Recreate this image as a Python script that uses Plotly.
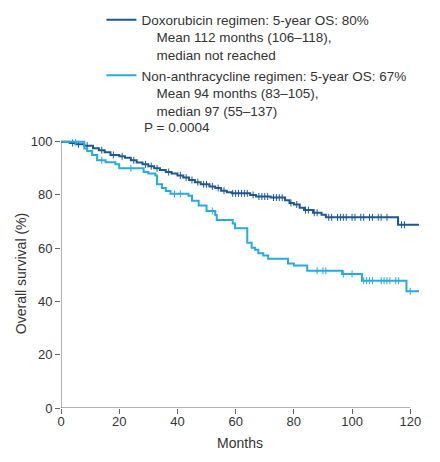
import numpy as np
import plotly.graph_objects as go

# Doxorubicin regimen: step times (months) and survival (%) after each step
dox_t = [0, 3, 5, 8, 11, 13, 15, 17, 20, 22, 24, 26, 28, 30, 32, 34, 36, 38, 40, 42, 44, 46, 48, 51, 53, 55, 57, 58.7,
         65, 67, 72, 77, 78.5, 80, 82, 83.5, 86.6, 89.5, 91, 115.8, 123]
dox_s = [100, 99.5, 99, 98.5, 97.5, 96.8, 96, 95, 94.5, 94, 93, 92.2, 91.5, 90.8, 90, 89.4, 88.6, 88, 87.3, 86.5, 85.6,
         84.8, 84, 83.2, 82.6, 81.6, 81, 80.6, 80, 79.4, 79, 78, 77, 76.4, 75.2, 74.3, 73.3, 72.6, 71.6, 68.8, 68.8]
dox_cens = [4, 6, 9, 14, 18, 21, 25, 29, 31, 33, 37, 41, 43, 45, 47, 49, 50, 52, 54, 56, 59, 60, 61, 62, 63, 64, 66,
            68, 69, 70, 71, 73, 74, 75, 76, 79, 81, 84, 85, 87, 88, 92, 93, 95, 96, 97, 98, 100, 101, 103, 104, 106,
            107, 109, 110, 112, 117, 118]

# Non-anthracycline regimen
non_t = [0, 8, 9, 10.7, 12.4, 15.3, 18.7, 20, 28.4, 30, 32.4, 33, 34.7, 36, 37.6, 43.8, 45, 47.3, 50, 53, 53.5, 59,
         59.8, 64, 65.5, 66.7, 67.8, 69.5, 71.2, 78, 80, 84.6, 96.6, 103.4, 118.7, 123]
non_s = [100, 97.4, 96.5, 95, 93, 92.3, 91.5, 90, 88.6, 88, 87.3, 84, 82.6, 81.5, 80.4, 79.7, 77.8, 76, 74, 72.5, 70.6,
         69.3, 67.5, 62, 60.2, 59.4, 58.1, 57.3, 56, 54.3, 53.5, 51.5, 50.3, 47.8, 43.8, 43.8]
non_cens = [5, 14, 24, 39, 41, 52, 88, 90, 91, 97, 100, 104, 105, 106, 107, 110, 111, 112, 113, 115, 116, 120]

x_ticks = [0, 20, 40, 60, 80, 100, 120]
y_ticks = [0, 20, 40, 60, 80, 100]

dark = "#1d5893"
light = "#25aae1"
font = "Arial, 'Liberation Sans', sans-serif"
txt = "#333333"

# figure-internal geometry (page body adds an 8px offset)
W, H = 432, 454
L, T, R, B = 52.5, 131, 20.7, 53.7
PW, PH = W - L - R, H - T - B


def px_x(v):
    return (v - L) / PW


def px_y(v):
    return (H - B - v) / PH


def surv_at(ts, ss, c):
    i = np.searchsorted(np.array(ts), np.array(c), side="right") - 1
    return list(np.array(ss)[i])


fig = go.Figure()
ind = "\u00a0" * 4
fig.add_trace(go.Scatter(x=dox_t, y=dox_s, mode="lines", line=dict(shape="hv", color=dark, width=2),
                         name="Doxorubicin regimen: 5-year OS: 80%<br>" + ind + "Mean 112 months (106\u2013118),<br>" + ind + "median not reached"))
fig.add_trace(go.Scatter(x=dox_cens, y=surv_at(dox_t, dox_s, dox_cens), mode="markers", showlegend=False,
                         marker=dict(symbol="line-ns", size=5, line=dict(color=dark, width=1))))
fig.add_trace(go.Scatter(x=non_t, y=non_s, mode="lines", line=dict(shape="hv", color=light, width=2),
                         name="Non-anthracycline regimen: 5-year OS: 67%<br>" + ind + "Mean 94 months (83\u2013105),<br>" + ind + "median 97 (55\u2013137)"))
fig.add_trace(go.Scatter(x=non_cens, y=surv_at(non_t, non_s, non_cens), mode="markers", showlegend=False,
                         marker=dict(symbol="line-ns", size=5, line=dict(color=light, width=1))))

axis_col = "#666666"
fig.add_shape(type="line", xref="x", yref="y", x0=0, x1=120, y0=0, y1=0, line=dict(color=axis_col, width=1))
fig.add_shape(type="line", xref="x", yref="y", x0=0, x1=0, y0=0, y1=100, line=dict(color=axis_col, width=1))

fig.add_annotation(text="P = 0.0004", xref="paper", yref="paper", x=px_x(134), y=px_y(119.5),
                   xanchor="left", yanchor="middle", showarrow=False, font=dict(size=13.5, color=txt, family=font))

fig.update_layout(
    width=W, height=H,
    margin=dict(l=L, r=R, t=T, b=B, autoexpand=False),
    paper_bgcolor="white", plot_bgcolor="white",
    font=dict(family=font, size=13, color=txt),
    showlegend=True,
    legend=dict(x=px_x(93), xanchor="left", y=px_y(-3.8), yanchor="top",
                valign="top", font=dict(size=13.5, color=txt), bgcolor="rgba(0,0,0,0)", tracegroupgap=0),
    xaxis=dict(range=[0, 123], tickvals=x_ticks, ticks="outside", ticklen=5, tickcolor=axis_col, showline=False,
               showgrid=False, zeroline=False, automargin=False, ticklabelstandoff=-4,
               title=dict(text="Months", standoff=10, font=dict(size=14)), tickfont=dict(size=13)),
    yaxis=dict(range=[0, 101], tickvals=y_ticks, ticks="outside", ticklen=5, tickcolor=axis_col, showline=False,
               showgrid=False, zeroline=False, automargin=False,
               title=dict(text="Overall survival (%)", standoff=0, font=dict(size=14)), tickfont=dict(size=13)),
)

fig.write_html("out.html")
